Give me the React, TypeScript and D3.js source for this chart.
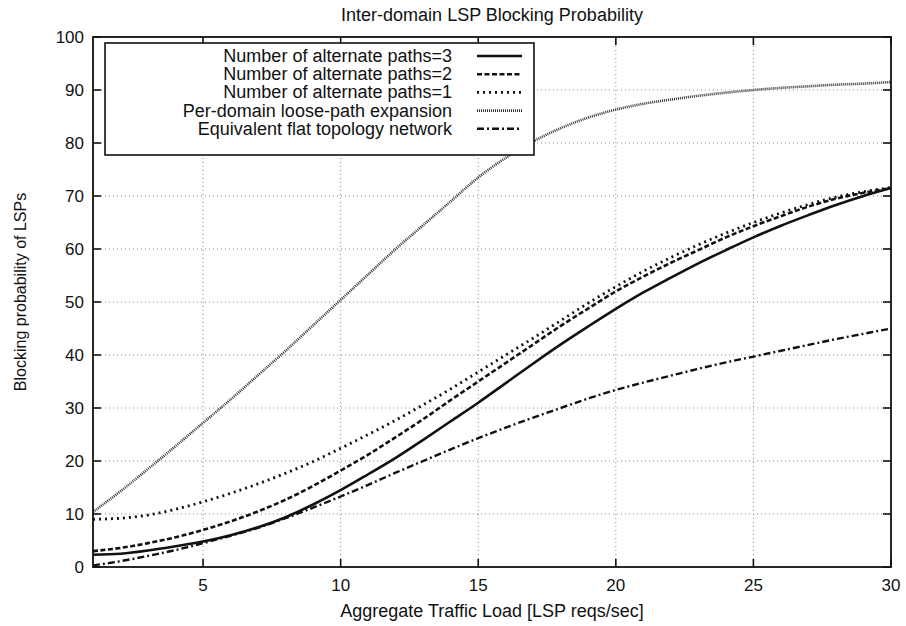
import React from "react";
import * as d3 from "d3";

// Aggregate traffic load (LSP reqs/sec)
const loads = [
  1, 2, 3, 4, 5, 6, 7, 8, 9, 10, 11, 12, 13, 14, 15, 16, 17, 18, 19, 20, 21, 22,
  23, 24, 25, 26, 27, 28, 29, 30,
];

// Blocking probability (%) per scheme
const altPaths3 = [
  2.3, 2.5, 3.1, 3.9, 4.8, 6.0, 7.5, 9.4, 11.8, 14.5, 17.5, 20.6, 24.0, 27.5, 31.0,
  34.7, 38.4, 42.0, 45.4, 48.7, 51.8, 54.6, 57.3, 59.8, 62.2, 64.4, 66.4, 68.3,
  70.0, 71.5,
];
const altPaths2 = [
  3.0, 3.6, 4.5, 5.6, 7.0, 8.6, 10.5, 12.7, 15.3, 18.2, 21.2, 24.5, 27.9, 31.5,
  35.0, 38.5, 42.0, 45.5, 48.8, 52.0, 54.8, 57.4, 59.8, 62.2, 64.3, 66.2, 68.0,
  69.5, 70.6, 71.5,
];
const altPaths1 = [
  9.0, 9.2, 9.8, 10.9, 12.3, 13.9, 15.7, 17.7, 19.9, 22.4, 25.0, 27.7, 30.6, 33.6,
  36.8, 40.0, 43.2, 46.5, 49.8, 52.9, 55.8, 58.4, 60.8, 63.0, 65.0, 66.8, 68.4,
  69.8, 70.8, 71.6,
];
const perDomain = [
  10.4, 14.3, 18.5, 22.8, 27.2, 31.6, 36.2, 40.8, 45.6, 50.4, 55.2, 60.0, 64.5,
  69.0, 73.5, 77.2, 80.3, 82.8, 84.8, 86.3, 87.4, 88.2, 88.9, 89.5, 90.0, 90.4,
  90.7, 91.0, 91.2, 91.5,
];
const flatTopology = [
  0.3, 1.1, 2.1, 3.2, 4.5, 5.9, 7.4, 9.2, 11.2, 13.3, 15.5, 17.8, 20.0, 22.2, 24.3,
  26.3, 28.2, 30.0, 31.8, 33.4, 34.8, 36.1, 37.4, 38.6, 39.7, 40.8, 41.9, 43.0,
  44.0, 45.0,
];

const seriesNames = [
  "Number of alternate paths=3",
  "Number of alternate paths=2",
  "Number of alternate paths=1",
  "Per-domain loose-path expansion",
  "Equivalent flat topology network",
];

const xTicks = [5, 10, 15, 20, 25, 30];
const yTicks = [0, 10, 20, 30, 40, 50, 60, 70, 80, 90, 100];

const W = 906;
const H = 626;
const left = 93;
const right = 891;
const top = 37;
const bottom = 567;
const FONT = "'Liberation Sans', Arial, Helvetica, sans-serif";

const styles = [
  { dash: "none", width: 2.6, color: "#111" },
  { dash: "5,2.5", width: 2.6, color: "#111" },
  { dash: "2,4", width: 2.8, color: "#111" },
  { dash: "1,1", width: 2.6, color: "#333" },
  { dash: "7,3,2,3", width: 2.4, color: "#111" },
];

export default function App() {
  const x = d3.scaleLinear().domain([1, 30]).range([left, right]);
  const y = d3.scaleLinear().domain([0, 100]).range([bottom, top]);
  const allSeries = [altPaths3, altPaths2, altPaths1, perDomain, flatTopology];

  const line = d3
    .line<number>()
    .x((_, i) => x(loads[i]))
    .y((v) => y(v))
    .curve(d3.curveMonotoneX);

  const tick = 8;
  const legX0 = 477;
  const legX1 = 522;
  const legY0 = 56;
  const legStep = 18.2;

  return (
    <svg
      width={W}
      height={H}
      style={{ position: "absolute", left: 0, top: 0, background: "#fff" }}
      fontFamily={FONT}
    >
      <rect x={0} y={0} width={W} height={H} fill="#fff" />
      <text x={(left + right) / 2} y={21} textAnchor="middle" fontSize={18} fill="#111">
        Inter-domain LSP Blocking Probability
      </text>

      {/* grid */}
      <g stroke="#8a8a8a" strokeWidth={1} strokeDasharray="1,3">
        {xTicks.filter((t) => t < 30).map((t) => (
          <line key={"gx" + t} x1={x(t)} x2={x(t)} y1={bottom} y2={top} />
        ))}
        {yTicks.filter((t) => t > 0 && t < 100).map((t) => (
          <line key={"gy" + t} x1={left} x2={right} y1={y(t)} y2={y(t)} />
        ))}
      </g>

      {/* ticks (mirrored on all sides) */}
      <g stroke="#111" strokeWidth={1.6}>
        {xTicks.map((t) => (
          <g key={"tx" + t}>
            <line x1={x(t)} x2={x(t)} y1={bottom} y2={bottom - tick} />
            <line x1={x(t)} x2={x(t)} y1={top} y2={top + tick} />
          </g>
        ))}
        {yTicks.map((t) => (
          <g key={"ty" + t}>
            <line x1={left} x2={left + tick} y1={y(t)} y2={y(t)} />
            <line x1={right} x2={right - tick} y1={y(t)} y2={y(t)} />
          </g>
        ))}
      </g>

      {/* curves */}
      <g fill="none" strokeLinecap="butt">
        {allSeries.map((s, i) => (
          <path
            key={"s" + i}
            d={line(s) || ""}
            stroke={styles[i].color}
            strokeWidth={styles[i].width}
            strokeDasharray={styles[i].dash}
          />
        ))}
      </g>

      {/* frame */}
      <rect
        x={left}
        y={top}
        width={right - left}
        height={bottom - top}
        fill="none"
        stroke="#111"
        strokeWidth={1.8}
      />

      {/* tick labels */}
      <g fontSize={17} fill="#111">
        {xTicks.map((t) => (
          <text key={"lx" + t} x={x(t)} y={bottom + 24} textAnchor="middle">
            {t}
          </text>
        ))}
        {yTicks.map((t) => (
          <text key={"ly" + t} x={left - 9} y={y(t) + 6} textAnchor="end">
            {t}
          </text>
        ))}
      </g>

      {/* axis titles */}
      <text x={(left + right) / 2} y={617} textAnchor="middle" fontSize={18} fill="#111">
        Aggregate Traffic Load [LSP reqs/sec]
      </text>
      <text
        transform={`translate(26, 292) rotate(-90)`}
        textAnchor="middle"
        fontSize={16}
        fill="#111"
      >
        Blocking probability of LSPs
      </text>

      {/* legend */}
      <rect x={105} y={43} width={429} height={112} fill="#fff" stroke="#111" strokeWidth={1.6} />
      {seriesNames.map((name, i) => {
        const ly = legY0 + i * legStep;
        return (
          <g key={"leg" + i}>
            <text x={452} y={ly + 6} textAnchor="end" fontSize={18} fill="#111">
              {name}
            </text>
            <line
              x1={legX0}
              x2={legX1}
              y1={ly}
              y2={ly}
              stroke={styles[i].color}
              strokeWidth={styles[i].width}
              strokeDasharray={styles[i].dash}
            />
          </g>
        );
      })}
    </svg>
  );
}
